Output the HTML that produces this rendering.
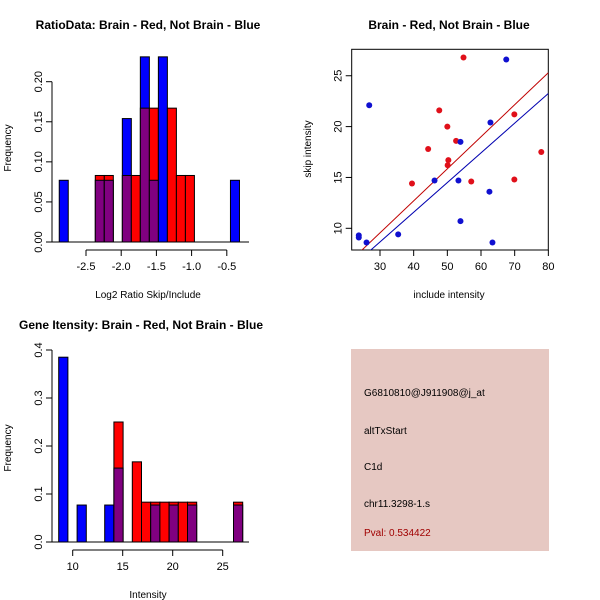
<!DOCTYPE html>
<html><head><meta charset="utf-8"><style>
body{margin:0;background:#fff}svg{display:block;font-family:"Liberation Sans",sans-serif}
</style></head><body>
<svg id="chart" width="600" height="600" viewBox="0 0 600 600">
<text x="148" y="29" text-anchor="middle" font-size="12" font-weight="bold">RatioData: Brain - Red, Not Brain - Blue</text>
<text x="449" y="29" text-anchor="middle" font-size="12" font-weight="bold">Brain - Red, Not Brain - Blue</text>
<text x="141" y="329" text-anchor="middle" font-size="12" font-weight="bold">Gene Itensity: Brain - Red, Not Brain - Blue</text>
<text x="148" y="298" text-anchor="middle" font-size="10">Log2 Ratio Skip/Include</text>
<text transform="translate(11,148) rotate(-90)" text-anchor="middle" font-size="10">Frequency</text>
<text x="449" y="298" text-anchor="middle" font-size="10">include intensity</text>
<text transform="translate(311,149) rotate(-90)" text-anchor="middle" font-size="10">skip intensity</text>
<text x="148" y="598" text-anchor="middle" font-size="10">Intensity</text>
<text transform="translate(11,448) rotate(-90)" text-anchor="middle" font-size="10">Frequency</text>
<g>
<rect x="351" y="349" width="198" height="202" fill="#e6c8c2"/>
<text x="364" y="396" font-size="10">G6810810@J911908@j_at</text>
<text x="364" y="434" font-size="10">altTxStart</text>
<text x="364" y="470" font-size="10">C1d</text>
<text x="364" y="507" font-size="10">chr11.3298-1.s</text>
<text x="364" y="536" font-size="10" fill="#a00000">Pval: 0.534422</text>
</g>
</svg>
<script>
// Ratio histogram data
const ratioBinStart = -2.88, ratioBinWidth = 0.128;
const ratioBlueBins = [0,4,5,7,9,10,11,19];
const ratioBlueFreq = [0.077,0.077,0.077,0.154,0.231,0.077,0.231,0.077];
const ratioRedBins = [4,5,7,8,9,10,12,13,14];
const ratioRedFreq = [0.083,0.083,0.083,0.083,0.167,0.167,0.167,0.083,0.083];
const ratioXTicks = [-2.5,-2.0,-1.5,-1.0,-0.5];
const ratioXLabels = ["-2.5","-2.0","-1.5","-1.0","-0.5"];
const ratioYTicks = [0,0.05,0.10,0.15,0.20];
const ratioYLabels = ["0.00","0.05","0.10","0.15","0.20"];
// Intensity histogram data
const intBinStart = 8.6, intBinWidth = 0.92;
const intBlueBins = [0,2,5,6,10,12,14,19];
const intBlueFreq = [0.385,0.077,0.077,0.154,0.077,0.077,0.077,0.077];
const intRedBins = [6,8,9,10,11,12,13,14,19];
const intRedFreq = [0.25,0.167,0.083,0.083,0.083,0.083,0.083,0.083,0.083];
const intXTicks = [10,15,20,25];
const intXLabels = ["10","15","20","25"];
const intYTicks = [0,0.1,0.2,0.3,0.4];
const intYLabels = ["0.0","0.1","0.2","0.3","0.4"];
// Scatter data
const redX = [54.8,69.9,47.6,50.0,52.6,44.3,50.3,50.1,39.5,57.1,69.9,77.9];
const redY = [26.8,21.2,21.6,20.0,18.6,17.8,16.7,16.2,14.4,14.6,14.8,17.5];
const blueX = [67.5,26.8,62.8,53.9,46.2,53.3,62.5,53.9,35.4,23.7,23.7,26.0,63.4];
const blueY = [26.6,22.1,20.4,18.5,14.7,14.7,13.6,10.7,9.4,9.3,9.1,8.6,8.6];
const redFit = [0.1,0.315];
const blueFit = [-0.1,0.292];
const scXTicks = [30,40,50,60,70,80];
const scYTicks = [10,15,20,25];

const svg = document.getElementById('chart');
const NS = 'http://www.w3.org/2000/svg';
function mk(tag, attrs, parent){const e=document.createElementNS(NS,tag);for(const k in attrs)e.setAttribute(k,attrs[k]);(parent||svg).appendChild(e);return e;}

function hist(cfg){
  const g=mk('g',{});
  
  
  const xs=v=>cfg.x0+(v-cfg.xv0)*cfg.xk;
  const ys=f=>cfg.y0-f*cfg.yk;
  const bins={};
  cfg.bb.forEach((b,i)=>{bins[b]=bins[b]||{b:0,r:0};bins[b].b=cfg.bf[i];});
  cfg.rb.forEach((b,i)=>{bins[b]=bins[b]||{b:0,r:0};bins[b].r=cfg.rf[i];});
  Object.keys(bins).forEach(k=>{
    const d=bins[k], x1=xs(cfg.bs+k*cfg.bw), x2=xs(cfg.bs+(+k+1)*cfg.bw);
    const hi=Math.max(d.b,d.r), lo=Math.min(d.b,d.r);
    const col=d.b>=d.r?'#0000ff':'#ff0000';
    const r1=mk('rect',{x:x1,y:ys(hi),width:x2-x1,height:ys(0)-ys(hi),fill:col,stroke:'#000','stroke-width':1},g);
    
    
    if(lo>0){
      const r2=mk('rect',{x:x1,y:ys(lo),width:x2-x1,height:ys(0)-ys(lo),fill:'#800080',stroke:'#000','stroke-width':1},g);
      
      
    }
  });
  mk('line',{x1:cfg.bx1,x2:cfg.bx2,y1:ys(0),y2:ys(0),stroke:'#000'},g);
  // x axis
  const ax=mk('g',{},g);
  
  
  const ay=cfg.axY;
  mk('line',{x1:xs(cfg.xt[0]),x2:xs(cfg.xt[cfg.xt.length-1]),y1:ay,y2:ay,stroke:'#000'},ax);
  cfg.xt.forEach((t,i)=>{mk('line',{x1:xs(t),x2:xs(t),y1:ay,y2:ay+6,stroke:'#000'},ax);
    const tx=mk('text',{x:xs(t),y:ay+20,'text-anchor':'middle','font-size':11},ax);tx.textContent=cfg.xl[i];});
  const ayx=mk('g',{},g);
  
  
  const axx=cfg.axX;
  mk('line',{x1:axx,x2:axx,y1:ys(cfg.yt[0]),y2:ys(cfg.yt[cfg.yt.length-1]),stroke:'#000'},ayx);
  cfg.yt.forEach((t,i)=>{mk('line',{x1:axx-6,x2:axx,y1:ys(t),y2:ys(t),stroke:'#000'},ayx);
    const tx=mk('text',{transform:`translate(${axx-10},${ys(t)}) rotate(-90)`,'text-anchor':'middle','font-size':11},ayx);tx.textContent=cfg.yl[i];});
}
hist({name:'ratio-histogram',x0:86,xv0:-2.5,xk:70.4,y0:242,yk:801.5,bs:ratioBinStart,bw:ratioBinWidth,
  bb:ratioBlueBins,bf:ratioBlueFreq,rb:ratioRedBins,rf:ratioRedFreq,xt:ratioXTicks,xl:ratioXLabels,yt:ratioYTicks,yl:ratioYLabels,
  axY:250,axX:52,bx1:52,bx2:249});
hist({name:'intensity-histogram',x0:72.7,xv0:10,xk:10,y0:542,yk:480,bs:intBinStart,bw:intBinWidth,
  bb:intBlueBins,bf:intBlueFreq,rb:intRedBins,rf:intRedFreq,xt:intXTicks,xl:intXLabels,yt:intYTicks,yl:intYLabels,
  axY:550,axX:52,bx1:52,bx2:249});

// scatter
(function(){
  const g=mk('g',{});
  
  
  const L=351.7,R=548.3,T=49.3,B=250;
  const xs=v=>380+(v-30)*3.367, ys=v=>228.3-(v-10)*10.17;
  const xv=v=>30+(v-380)/3.367, yv=p=>10+(228.3-p)/10.17;
  const frame=mk('rect',{x:L,y:T,width:R-L,height:B-T,fill:'none',stroke:'#000'},g);
  
  
  scXTicks.forEach(t=>{mk('line',{x1:xs(t),x2:xs(t),y1:B,y2:B+6,stroke:'#000'},g);
    const tx=mk('text',{x:xs(t),y:B+20,'text-anchor':'middle','font-size':11},g);tx.textContent=t;});
  scYTicks.forEach(t=>{mk('line',{x1:L-6,x2:L,y1:ys(t),y2:ys(t),stroke:'#000'},g);
    const tx=mk('text',{transform:`translate(${L-10},${ys(t)}) rotate(-90)`,'text-anchor':'middle','font-size':11},g);tx.textContent=t;});
  const clip=mk('clipPath',{id:'sc'},g);mk('rect',{x:L,y:T,width:R-L,height:B-T},clip);
  function fit(f,col,name){
    const xa=xv(L), xb=xv(R);
    const ln=mk('line',{x1:xs(xa),y1:ys(f[0]+f[1]*xa),x2:xs(xb),y2:ys(f[0]+f[1]*xb),stroke:col,'clip-path':'url(#sc)'},g);
    
    
  }
  fit(redFit,'#c00000','red-fit-line');
  fit(blueFit,'#0000b0','blue-fit-line');
  redX.forEach((x,i)=>{const c=mk('circle',{cx:xs(x),cy:ys(redY[i]),r:3,fill:'#e0101a'},g);
    
    });
  blueX.forEach((x,i)=>{const c=mk('circle',{cx:xs(x),cy:ys(blueY[i]),r:3,fill:'#1010d0'},g);
    
    });
})();
</script>
</body></html>
